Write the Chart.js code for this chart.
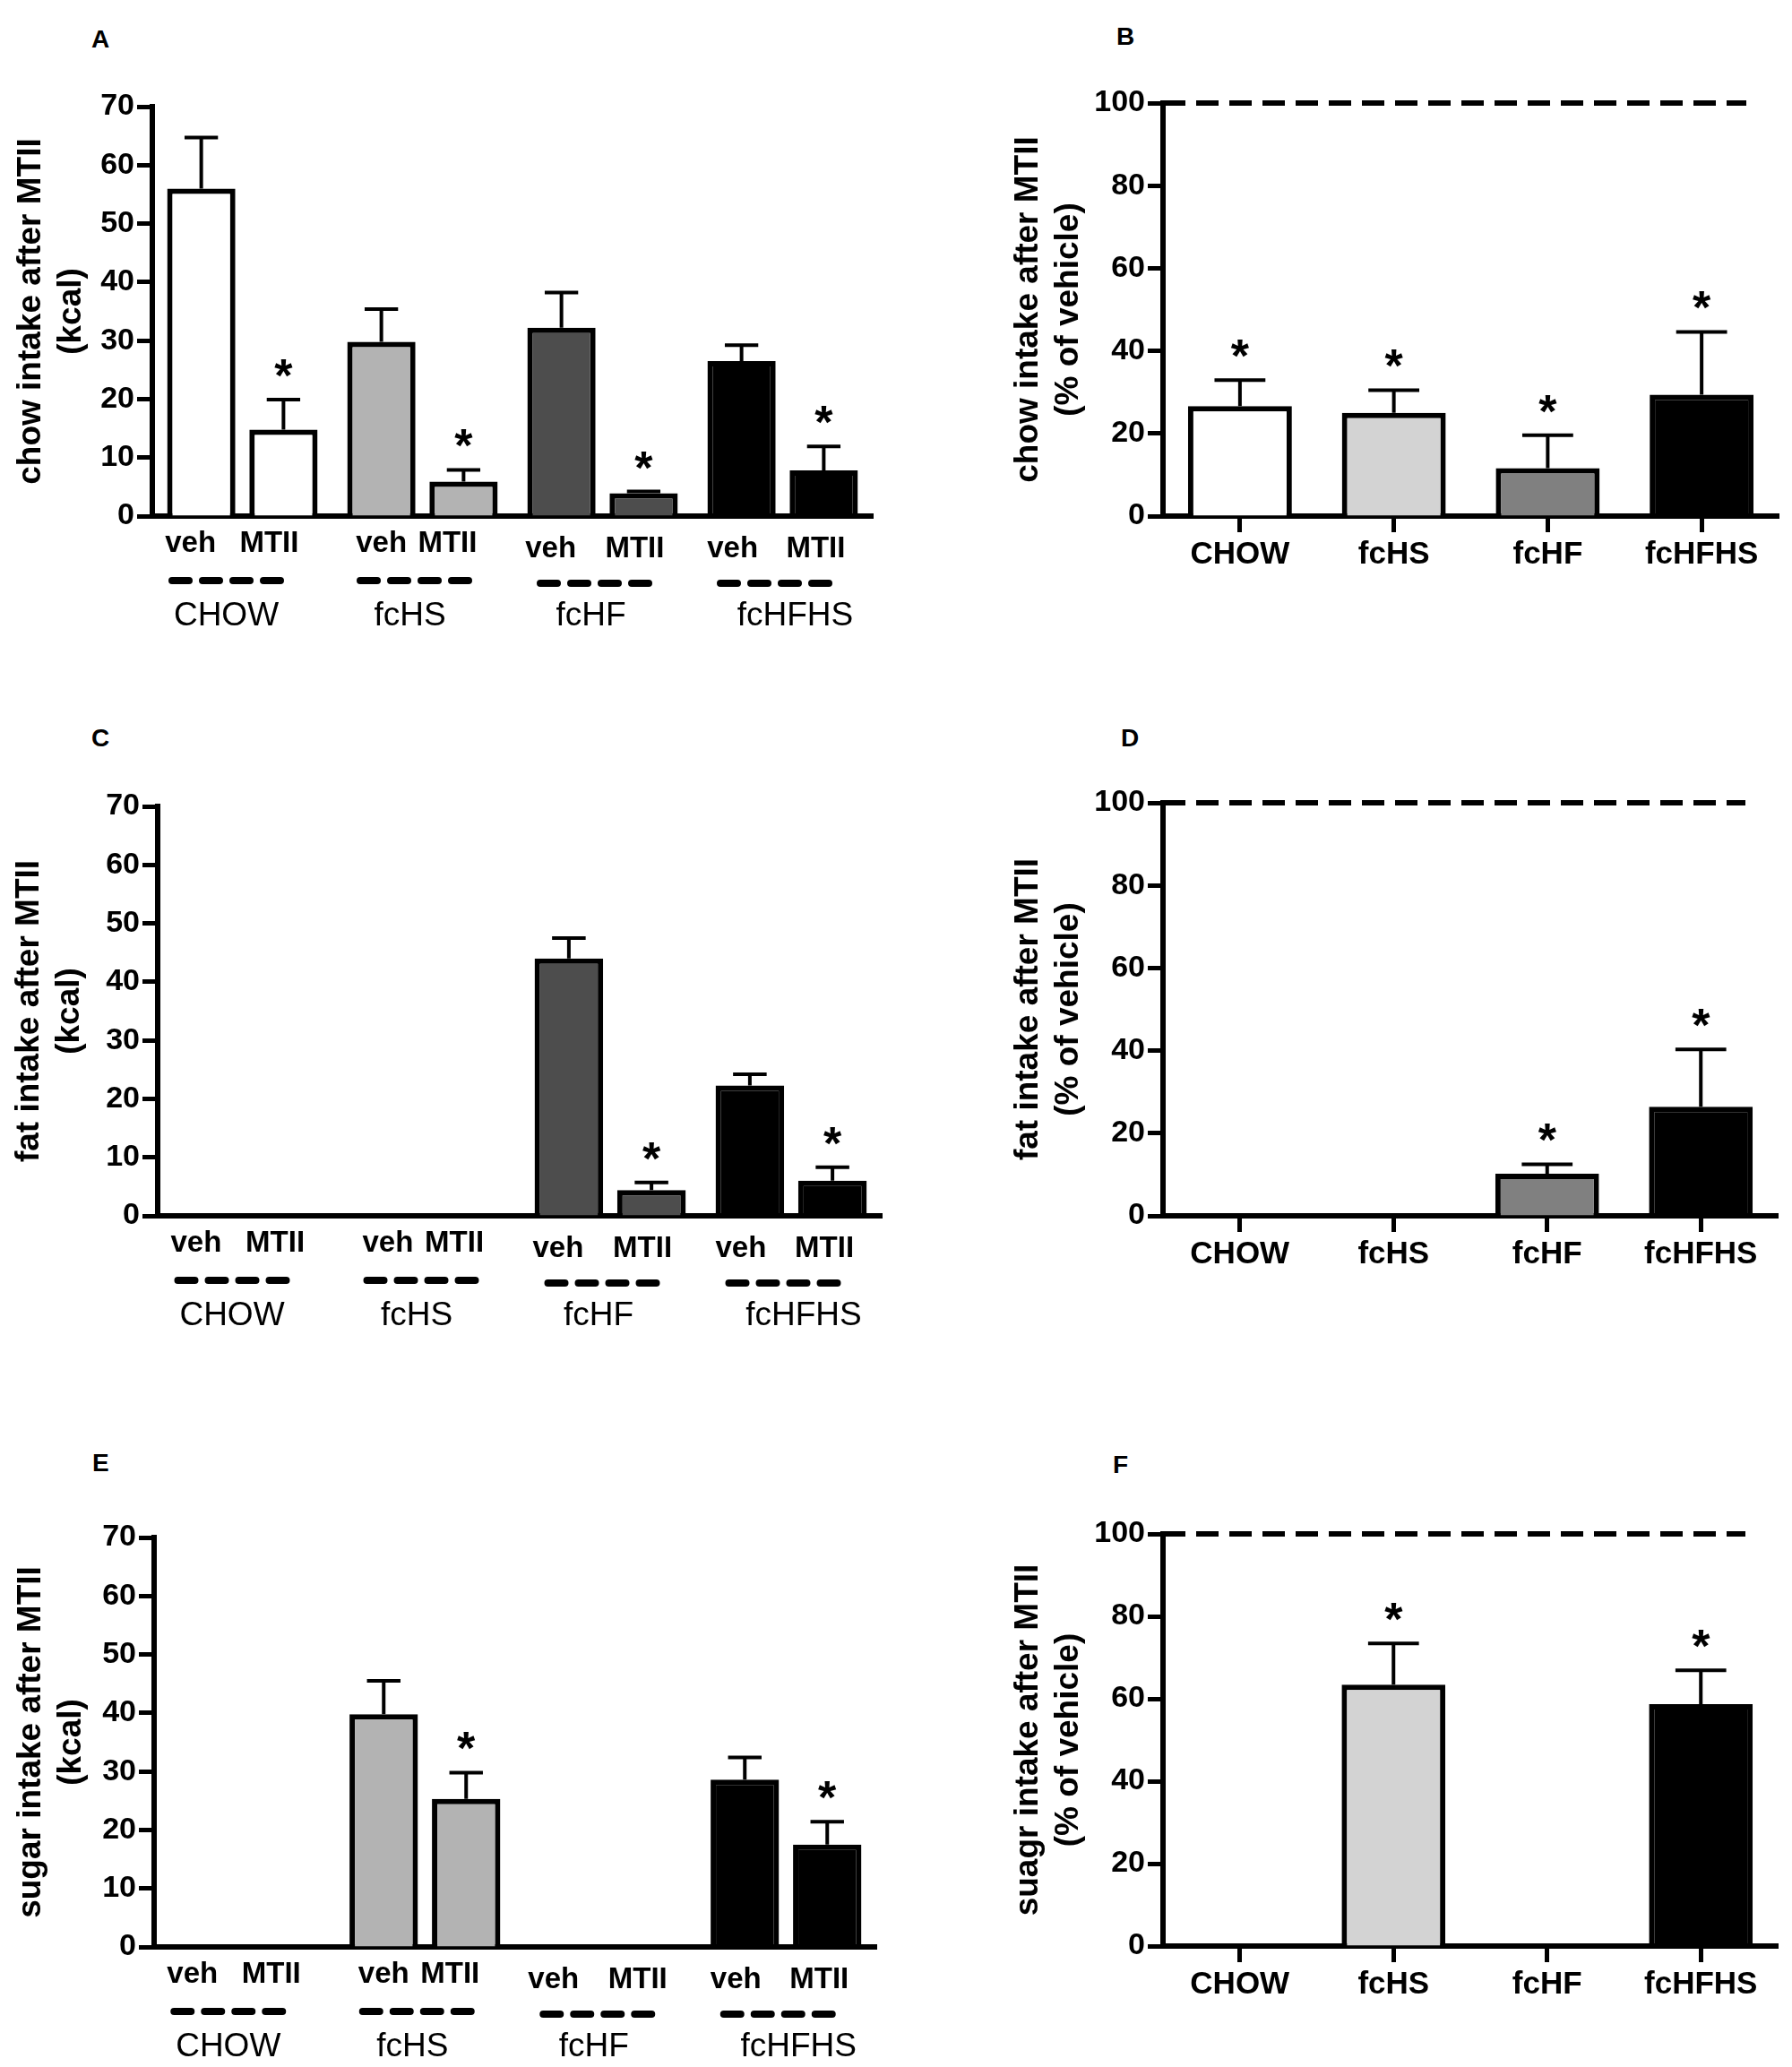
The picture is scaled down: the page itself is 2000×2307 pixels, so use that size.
<!DOCTYPE html>
<html>
<head>
<meta charset="utf-8">
<script src="https://cdn.jsdelivr.net/npm/chart.js@4.4.1/dist/chart.umd.min.js"></script>
<style>
  body { margin: 0; background: #fff; width: 2000px; height: 2307px; position: relative; overflow: hidden;
         font-family: 'Liberation Sans', Arial, sans-serif; }
  canvas { position: absolute; }
  .tag { position: absolute; font-weight: bold; font-size: 28px; line-height: 28px; }
</style>
</head>
<body>
<div class="tag" style="left:102px;top:30px">A</div>
<div class="tag" style="left:1246px;top:27px">B</div>
<div class="tag" style="left:102px;top:810px">C</div>
<div class="tag" style="left:1251px;top:810px">D</div>
<div class="tag" style="left:103px;top:1619px">E</div>
<div class="tag" style="left:1242px;top:1621px">F</div>

<canvas id="cA" style="left:0;top:0" width="1000" height="780"></canvas>
<canvas id="cB" style="left:1000px;top:0" width="1000" height="780"></canvas>
<canvas id="cC" style="left:0;top:780px" width="1000" height="807"></canvas>
<canvas id="cD" style="left:1000px;top:780px" width="1000" height="807"></canvas>
<canvas id="cE" style="left:0;top:1587px" width="1000" height="720"></canvas>
<canvas id="cF" style="left:1000px;top:1587px" width="1000" height="720"></canvas>

<script>
const groups = ['CHOW', 'fcHS', 'fcHF', 'fcHFHS'];
const treatments = ['veh', 'MTII'];

// kcal axis (A, C, E) and % of vehicle axis (B, D, F)
const kcalMax = 70, kcalStep = 10;
const pctMax = 100, pctStep = 20;
const vehicleLevel = 100;

// A: chow intake (kcal), mean and SEM
const chowVeh = [56.0, 29.8, 32.2, 26.5];
const chowVehSem = [8.7, 5.6, 6.0, 2.7];
const chowMTII = [14.8, 5.9, 3.9, 7.8];
const chowMTIISem = [5.1, 2.0, 0.3, 4.1];
const chowMTIIStar = [true, true, true, true];

// B: chow intake after MTII (% of vehicle)
const chowPct = [26.6, 25.0, 11.6, 29.4];
const chowPctSem = [6.3, 5.5, 8.0, 15.2];
const chowPctStar = [true, true, true, true];

// C: fat intake (kcal)
const fatVeh = [null, null, 44.0, 22.3];
const fatVehSem = [null, null, 3.5, 1.9];
const fatMTII = [null, null, 4.4, 6.0];
const fatMTIISem = [null, null, 1.3, 2.3];
const fatMTIIStar = [false, false, true, true];

// D: fat intake after MTII (% of vehicle)
const fatPct = [null, null, 10.2, 26.4];
const fatPctSem = [null, null, 2.3, 13.9];
const fatPctStar = [false, false, true, true];

// E: sugar intake (kcal)
const sugarVeh = [null, 39.8, null, 28.6];
const sugarVehSem = [null, 5.7, null, 3.8];
const sugarMTII = [null, 25.3, null, 17.5];
const sugarMTIISem = [null, 4.5, null, 3.9];
const sugarMTIIStar = [false, true, false, true];

// F: sugar intake after MTII (% of vehicle)
const sugarPct = [null, 63.4, null, 58.7];
const sugarPctSem = [null, 10.0, null, 8.2];
const sugarPctStar = [false, true, false, true];

const kcalShades = ['#ffffff', '#b3b3b3', '#4d4d4d', '#000000'];
const pctShades = ['#ffffff', '#d3d3d3', '#808080', '#000000'];

// hand placement of the under-axis labels, as in the original figure (px)
const labelShift = [[-12, -16], [0, -18], [-12, -10], [-10, -9]];
const labelDrop = [0, 0, 6, 6];
const dashShift = [-18, -9, -9, -9];
const nameShift = [-18, -14, -13, 14];

const FONT = "'Liberation Sans', Arial, sans-serif";

Chart.defaults.font.family = FONT;
Chart.defaults.color = '#000';

// error bars, stars, the 100% line and the veh/MTII labels under the axis
const decor = {
  id: 'decor',
  afterDatasetsDraw(chart, args, opts) {
    const ctx = chart.ctx, ys = chart.scales.y, area = chart.chartArea;
    ctx.save();
    if (opts.refLine != null) {
      const py = ys.getPixelForValue(opts.refLine);
      ctx.setLineDash([25, 12]);
      ctx.lineWidth = 6;
      ctx.strokeStyle = '#000';
      ctx.beginPath();
      ctx.moveTo(area.left, py);
      ctx.lineTo(area.right - 36, py);
      ctx.stroke();
      ctx.setLineDash([]);
    }
    chart.data.datasets.forEach((ds, di) => {
      chart.getDatasetMeta(di).data.forEach((bar, i) => {
        const v = ds.data[i];
        if (v == null) return;
        const top = ys.getPixelForValue(v + ds.sem[i]);
        const half = bar.width * 0.245;
        ctx.lineWidth = 4;
        ctx.strokeStyle = '#000';
        ctx.beginPath();
        ctx.moveTo(bar.x, bar.y);
        ctx.lineTo(bar.x, top);
        ctx.moveTo(bar.x - half, top);
        ctx.lineTo(bar.x + half, top);
        ctx.stroke();
        if (ds.stars && ds.stars[i]) {
          ctx.fillStyle = '#000';
          ctx.font = 'bold 52px ' + FONT;
          ctx.textAlign = 'center';
          ctx.textBaseline = 'alphabetic';
          ctx.fillText('*', bar.x, top - 9);
        }
      });
    });
    ctx.restore();
  },
  afterDraw(chart, args, opts) {
    if (!opts.subLabels) return;
    const ctx = chart.ctx, xs = chart.scales.x, base = chart.chartArea.bottom;
    const n = chart.data.datasets.length;
    const slot = xs.width / groups.length * opts.catPct / n;
    ctx.save();
    ctx.fillStyle = '#000';
    ctx.strokeStyle = '#000';
    ctx.textAlign = 'center';
    ctx.textBaseline = 'alphabetic';
    groups.forEach((g, i) => {
      const c = xs.getPixelForValue(i);
      chart.data.datasets.forEach((ds, di) => {
        const bx = c + (di - (n - 1) / 2) * slot;
        ctx.font = 'bold 33px ' + FONT;
        ctx.fillText(ds.label, bx + labelShift[i][di], base + 40 + labelDrop[i]);
      });
      const s = c + dashShift[i] - 64.5;
      ctx.lineWidth = 8;
      ctx.lineCap = 'round';
      ctx.setLineDash([19, 15]);
      ctx.beginPath();
      ctx.moveTo(s + 4, base + 72 + labelDrop[i] / 2);
      ctx.lineTo(s + 125, base + 72 + labelDrop[i] / 2);
      ctx.stroke();
      ctx.setLineDash([]);
      ctx.font = '37px ' + FONT;
      ctx.fillText(g, c + nameShift[i], base + 122);
    });
    ctx.restore();
  }
};

function yAxis(max, step, width, title) {
  return {
    min: 0, max: max,
    ticks: { stepSize: step, font: { size: 34, weight: 'bold' }, color: '#000', padding: 3 },
    grid: { drawOnChartArea: false, drawTicks: true, tickLength: 17, tickWidth: 5, tickColor: '#000' },
    border: { display: true, color: '#000', width: 6 },
    title: { display: true, text: title, color: '#000', padding: 0,
             font: { size: 37, weight: 'bold', lineHeight: 1.2 } },
    afterFit(scale) { scale.width = width; }
  };
}

function kcalChart(id, box, title, veh, vehSem, mtii, mtiiSem, stars) {
  const catPct = 0.913;
  const colors = kcalShades;
  new Chart(document.getElementById(id), {
    type: 'bar',
    data: {
      labels: groups,
      datasets: [
        { label: treatments[0], data: veh, sem: vehSem, backgroundColor: colors, borderColor: '#000',
          borderWidth: 6, barPercentage: 0.83, categoryPercentage: catPct },
        { label: treatments[1], data: mtii, sem: mtiiSem, stars: stars, backgroundColor: colors, borderColor: '#000',
          borderWidth: 6, barPercentage: 0.83, categoryPercentage: catPct }
      ]
    },
    options: {
      responsive: false, animation: false, devicePixelRatio: 1,
      layout: { padding: { left: box.pl, top: box.top, right: box.pr, bottom: 0 } },
      plugins: { legend: { display: false }, tooltip: { enabled: false },
                 decor: { subLabels: true, catPct: catPct } },
      scales: {
        x: {
          ticks: { display: false },
          grid: { display: false },
          border: { display: true, color: '#000', width: 6 },
          afterFit(scale) { scale.height = box.xh; }
        },
        y: yAxis(kcalMax, kcalStep, box.yw, title)
      }
    },
    plugins: [decor]
  });
}

function pctChart(id, box, title, vals, sem, stars) {
  new Chart(document.getElementById(id), {
    type: 'bar',
    data: {
      labels: groups,
      datasets: [
        { label: 'MTII', data: vals, sem: sem, stars: stars, backgroundColor: pctShades, borderColor: '#000',
          borderWidth: 6, barPercentage: 0.675, categoryPercentage: 1 }
      ]
    },
    options: {
      responsive: false, animation: false, devicePixelRatio: 1,
      layout: { padding: { left: box.pl, top: box.top, right: box.pr, bottom: 0 } },
      plugins: { legend: { display: false }, tooltip: { enabled: false },
                 decor: { refLine: vehicleLevel } },
      scales: {
        x: {
          ticks: { font: { size: 35, weight: 'bold' }, color: '#000', padding: 4, maxRotation: 0 },
          grid: { display: true, drawOnChartArea: false, offset: false, drawTicks: true,
                  tickLength: 18, tickWidth: 5, tickColor: '#000' },
          border: { display: true, color: '#000', width: 6 },
          afterFit(scale) { scale.height = box.xh; }
        },
        y: yAxis(pctMax, pctStep, box.yw, title)
      }
    },
    plugins: [decor]
  });
}

kcalChart('cA', { pl: 13, top: 119, pr: 26, yw: 157, xh: 204 },
  ['chow intake after MTII', '(kcal)'], chowVeh, chowVehSem, chowMTII, chowMTIISem, chowMTIIStar);
pctChart('cB', { pl: 126, top: 115, pr: 15, yw: 172, xh: 204 },
  ['chow intake after MTII', '(% of vehicle)'], chowPct, chowPctSem, chowPctStar);

kcalChart('cC', { pl: 11, top: 120, pr: 16, yw: 165, xh: 230 },
  ['fat intake after MTII', '(kcal)'], fatVeh, fatVehSem, fatMTII, fatMTIISem, fatMTIIStar);
pctChart('cD', { pl: 126, top: 116, pr: 16, yw: 172, xh: 230 },
  ['fat intake after MTII', '(% of vehicle)'], fatPct, fatPctSem, fatPctStar);

kcalChart('cE', { pl: 13, top: 129, pr: 22, yw: 159, xh: 134 },
  ['sugar intake after MTII', '(kcal)'], sugarVeh, sugarVehSem, sugarMTII, sugarMTIISem, sugarMTIIStar);
pctChart('cF', { pl: 126, top: 125, pr: 16, yw: 172, xh: 135 },
  ['suagr intake after MTII', '(% of vehicle)'], sugarPct, sugarPctSem, sugarPctStar);
</script>
</body>
</html>
